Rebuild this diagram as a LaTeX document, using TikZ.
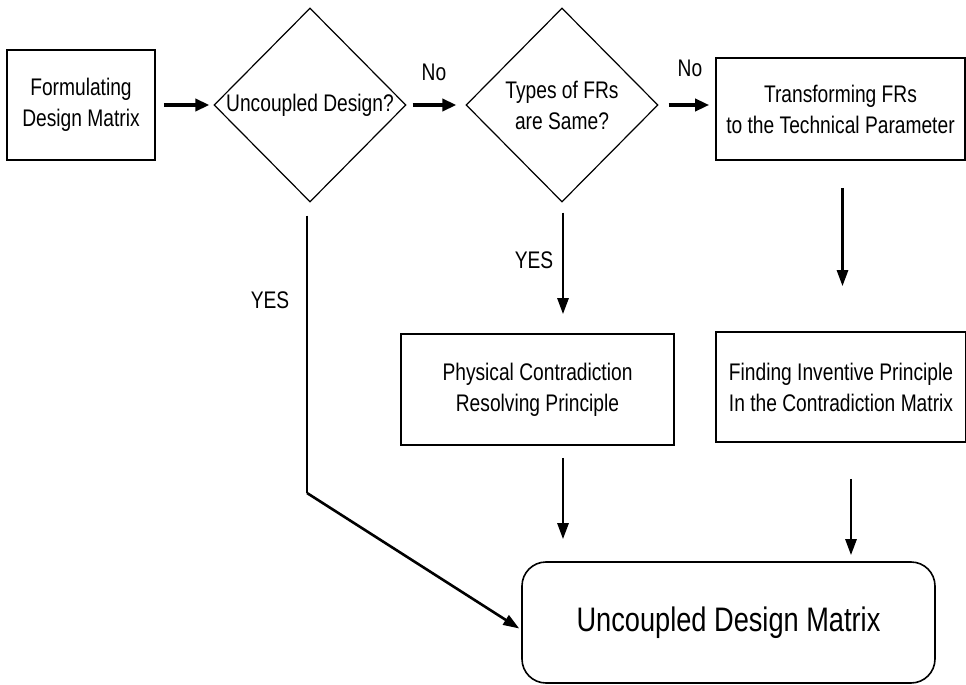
\documentclass[tikz,border=0pt]{standalone}
\usepackage{fontspec}
\setmainfont{Liberation Sans}[FakeStretch=0.8]
\usetikzlibrary{shapes.geometric,arrows.meta}

\begin{document}
\begin{tikzpicture}[
    x=0.5pt, y=-0.5pt,
    box/.style={rectangle, draw=black, thick, align=center,
        font=\fontsize{12}{15.5}\selectfont, inner sep=2pt},
    decision/.style={diamond, draw=black, semithick, align=center,
        inner sep=0pt, minimum width=96pt, minimum height=97pt,
        font=\fontsize{12}{15.5}\selectfont},
    result/.style={rectangle, rounded corners=12pt, draw=black, thick,
        minimum width=206.5pt, minimum height=60.5pt,
        font=\fontsize{17}{20}\selectfont},
    arr/.style={-{Triangle[length=8pt,width=5.5pt]}, line width=1.3pt},
    thickarr/.style={-{Triangle[length=7pt,width=6pt]}, line width=1.7pt},
    lbl/.style={font=\fontsize{12}{14}\selectfont}
]
    \useasboundingbox (0,0) rectangle (966,685);

    \node[box, minimum width=74pt, minimum height=55pt] (form) at (81,105)
        {Formulating\\Design Matrix};
    \node[decision] (dec1) at (310,105) {Uncoupled Design?};
    \node[decision] (dec2) at (562,105) {Types of FRs\\are Same?};
    \node[box, minimum width=124.5pt, minimum height=51pt] (trans) at (840.5,109)
        {Transforming FRs\\to the Technical Parameter};
    \node[box, minimum width=136.5pt, minimum height=55.5pt] (phys) at (537.5,389.5)
        {Physical Contradiction\\Resolving Principle};
    \node[box, minimum width=125pt, minimum height=55pt] (find) at (841,387)
        {Finding Inventive Principle\\In the Contradiction Matrix};
    \node[result] (uncoupled) at (728.5,622.5) {Uncoupled Design Matrix};
    \coordinate (bend) at (307,493);

    % labels
    \node[lbl] (no1) at (434,72) {No};
    \node[lbl] (no2) at (690,68) {No};
    \node[lbl] (yes1) at (534,260) {YES};
    \node[lbl] (yes2) at (270,300) {YES};

    % connectors
    \draw[thickarr, shorten <=4pt, shorten >=2pt] (form.east) -- (form.east -| dec1.west);
    \draw[thickarr, shorten <=3pt, shorten >=4.5pt] (dec1.east) -- (dec2.west);
    \draw[thickarr, shorten <=5pt, shorten >=3pt] (dec2.east) -- (dec2.east -| trans.west);
    \draw[arr, shorten <=13.5pt, shorten >=22.5pt] ([xshift=1pt]trans.south) -- ([xshift=1pt]trans.south |- find.north);
    \draw[arr] ([xshift=5pt,yshift=-18pt]find.south) -- ([xshift=5pt,yshift=3pt]find.south |- uncoupled.north);
    \draw[arr, shorten <=5pt, shorten >=9.5pt] ([xshift=0.5pt]dec2.south) -- ([xshift=0.5pt]dec2.south |- phys.north);
    \draw[arr, shorten <=6pt, shorten >=11pt] ([xshift=0.5pt]dec2.south |- phys.south) -- ([xshift=0.5pt]dec2.south |- uncoupled.north);
    \draw[semithick, shorten <=6.5pt] ([xshift=-1.5pt]dec1.south) -- (bend);
    \draw[arr] (bend) -- ([xshift=-1pt,yshift=-3pt]uncoupled.west);
\end{tikzpicture}
\end{document}
